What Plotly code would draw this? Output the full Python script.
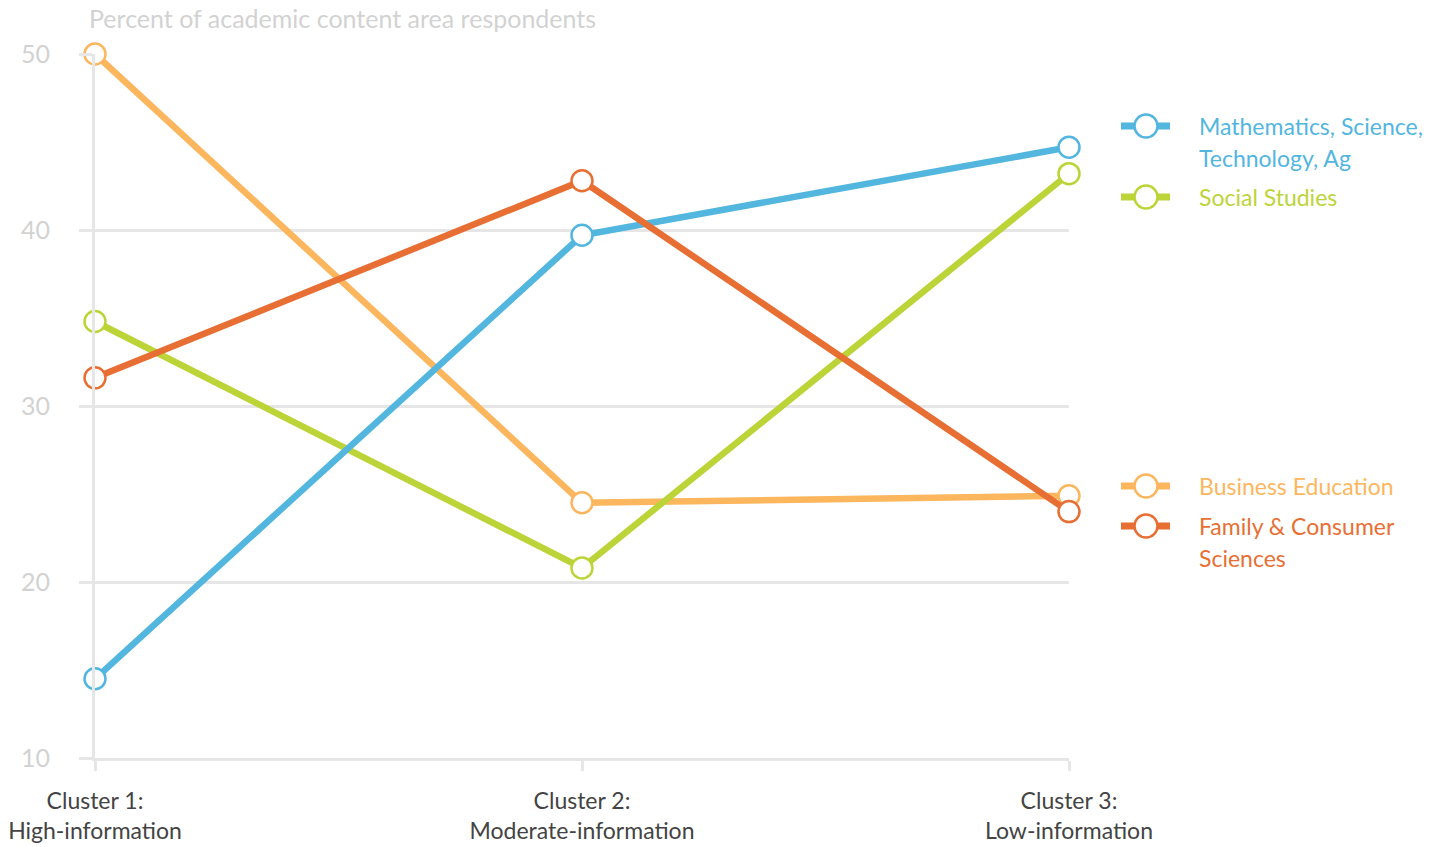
import plotly.graph_objects as go

categories = ["Cluster 1:<br>High-information", "Cluster 2:<br>Moderate-information", "Cluster 3:<br>Low-information"]
series_names = ["Mathematics, Science,<br>Technology, Ag", "Social Studies", "Business Education", "Family & Consumer<br>Sciences"]
math_vals = [14.5, 39.7, 44.7]
social_vals = [34.8, 20.8, 43.2]
business_vals = [50.0, 24.5, 24.9]
family_vals = [31.6, 42.8, 24.0]
y_ticks = [10, 20, 30, 40, 50]

colors = ["#52b6df", "#bdd438", "#fbb65e", "#e86f34"]
values = [math_vals, social_vals, business_vals, family_vals]
order = [2, 1, 0, 3]

FONT = "Lato"
fig = go.Figure()
xs = [0, 1, 2]
for i in order:
    fig.add_trace(go.Scatter(
        x=xs, y=values[i], mode="lines+markers",
        line=dict(color=colors[i], width=6.5),
        marker=dict(size=21, color="white", line=dict(color=colors[i], width=2.5)),
        cliponaxis=False, showlegend=False, hoverinfo="skip",
    ))

L, R, T, B = 95, 1069, 54, 758
W, H = 1440, 847

def px(x):
    return (x - L) / (R - L)

def py(y):
    return (B - y) / (B - T)

legend_rows = [126, 197, 486, 526]
for i, yy in enumerate(legend_rows):
    fig.add_shape(type="line", xref="paper", yref="paper",
                  x0=px(1121), x1=px(1170), y0=py(yy), y1=py(yy),
                  line=dict(color=colors[i], width=7))
    fig.add_shape(type="circle", xref="paper", yref="paper",
                  x0=px(1134.5), x1=px(1157.5), y0=py(yy + 11.5), y1=py(yy - 11.5),
                  fillcolor="white", line=dict(color=colors[i], width=2.5))
    for j, part in enumerate(series_names[i].split("<br>")):
        fig.add_annotation(xref="paper", yref="paper", x=px(1197), y=py(yy + 32 * j),
                           xanchor="left", yanchor="middle", align="left",
                           text=part, showarrow=False,
                           font=dict(family=FONT, size=23, color=colors[i]))

fig.add_annotation(xref="paper", yref="paper", x=px(87), y=py(18),
                   xanchor="left", yanchor="middle", text="Percent of academic content area respondents",
                   showarrow=False, font=dict(family=FONT, size=25, color="#d2d2d2"))

fig.update_layout(
    width=W, height=H, autosize=False,
    margin=dict(l=L, r=W - R, t=T, b=H - B),
    paper_bgcolor="white", plot_bgcolor="white",
    showlegend=False,
    xaxis=dict(range=[0, 2], tickvals=xs, ticktext=categories, automargin=False,
               showgrid=False, zeroline=False, showline=True, linecolor="#e6e6e6", linewidth=3,
               ticks="outside", ticklen=10, tickwidth=3, tickcolor="#e6e6e6",
               ticklabelstandoff=10,
               tickfont=dict(family=FONT, size=23, color="#444444"), fixedrange=True),
    yaxis=dict(range=[10, 50], tickvals=y_ticks, automargin=False,
               showgrid=True, gridcolor="#e6e6e6", gridwidth=3, zeroline=False,
               showline=True, linecolor="#e6e6e6", linewidth=3,
               ticks="outside", ticklen=13, tickwidth=3, tickcolor="#e6e6e6",
               ticklabelstandoff=24,
               tickfont=dict(family=FONT, size=25, color="#d2d2d2"), fixedrange=True),
)

fig.write_html("out.html", config={"displayModeBar": False},
               post_script="document.body.style.margin='0';document.body.style.overflow='hidden';")
